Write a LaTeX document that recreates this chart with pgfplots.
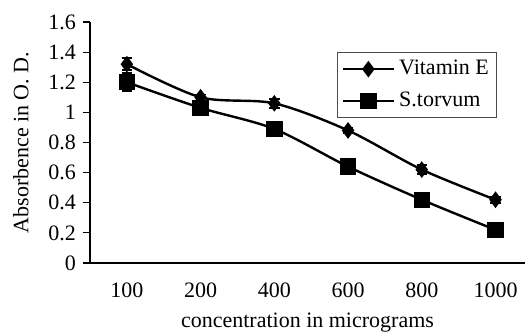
\documentclass[border=0pt]{standalone}
\usepackage{fontspec}
\setmainfont{Liberation Serif}
\usepackage{pgfplots}
\pgfplotsset{compat=1.18}
\begin{document}
\begin{tikzpicture}
\begin{axis}[
  scale only axis,
  width=217.5pt, height=120.5pt,
  axis lines=left,
  axis line style={-, line width=0.6pt},
  xmin=-0.5, xmax=5.4,
  ymin=0, ymax=1.6,
  ytick={0,0.2,...,1.6},
  yticklabels={0,0.2,0.4,0.6,0.8,1,1.2,1.4,1.6},
  xtick={0,1,2,3,4,5},
  xticklabels={100,200,400,600,800,1000},
  major x tick style={draw=none},
  extra x ticks={-0.5,0.5,1.5,2.5,3.5,4.5},
  extra x tick labels={},
  extra x tick style={tick style={line width=0.6pt}, major tick length=3.5pt, tick align=outside},
  tick align=outside,
  major tick length=3.5pt,
  tick style={line width=0.6pt, black},
  ticklabel style={font=\fontsize{11}{13}\selectfont},
  /pgf/number format/assume math mode=true,
  xticklabel style={yshift=-3pt},
  xlabel={concentration in micrograms},
  ylabel={Absorbence in O. D.},
  xlabel style={yshift=6.5pt},
  ylabel style={yshift=3pt},
  label style={font=\fontsize{11}{13}\selectfont},
  legend style={at={(0.568,0.876)}, anchor=north west, draw=black!70, line width=0.5pt,
     font=\fontsize{11}{13}\selectfont, row sep=3pt, inner xsep=2pt, inner ysep=2pt},
  legend cell align=left,
  legend image code/.code={\draw[mark repeat=2,mark phase=2] plot coordinates {(0cm,0cm) (0.45cm,0cm) (0.9cm,0cm)};},
  clip=false,
]
\coordinate (sw) at (rel axis cs:0,0);
\coordinate (ne) at (rel axis cs:1,1);
\addplot[black, line width=1.2pt, smooth, tension=0.5, mark=diamond*, mark size=3.2pt,
  error bars/.cd, y dir=both, y explicit, error bar style={line width=0.8pt},
  error mark options={rotate=90, mark size=2.6pt, line width=0.8pt}]
  coordinates {
  (0,1.32) +- (0,0.04)
  (1,1.10) +- (0,0.02)
  (2,1.06) +- (0,0.03)
  (3,0.88) +- (0,0.015)
  (4,0.62) +- (0,0.03)
  (5,0.42) +- (0,0.02)
  };
\addlegendentry{Vitamin E}
\addplot[black, line width=1.2pt, smooth, tension=0.5, mark=square*, mark size=3.5pt,
  error bars/.cd, y dir=both, y explicit, error bar style={line width=0.8pt},
  error mark options={rotate=90, mark size=2.6pt, line width=0.8pt}]
  coordinates {
  (0,1.20) +- (0,0.06)
  (1,1.03) +- (0,0.02)
  (2,0.89) +- (0,0.02)
  (3,0.64) +- (0,0.02)
  (4,0.42) +- (0,0.02)
  (5,0.22) +- (0,0.02)
  };
\addlegendentry{S.torvum}
\end{axis}
\pgfresetboundingbox
\path[use as bounding box] ([shift={(-45pt,-34.5pt)}]sw) rectangle ([shift={(0pt,11pt)}]ne);
\end{tikzpicture}
\end{document}
